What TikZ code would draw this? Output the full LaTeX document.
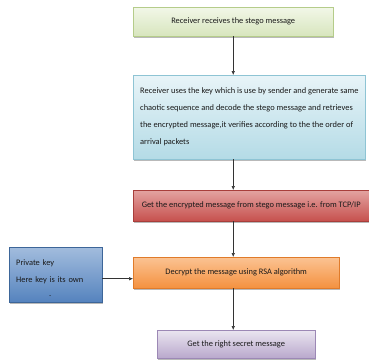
\documentclass[tikz,border=0pt]{standalone}
\usepackage{fontspec}
\setmainfont{Carlito}
\usetikzlibrary{arrows.meta,shadows}

\definecolor{greenA}{HTML}{F2F7E8}
\definecolor{greenB}{HTML}{D7E5BD}
\definecolor{greenL}{HTML}{B5CC8A}
\definecolor{blueA}{HTML}{E8F4F8}
\definecolor{blueB}{HTML}{B4DBE6}
\definecolor{blueL}{HTML}{8EC4D4}
\definecolor{redA}{HTML}{E3A3A1}
\definecolor{redB}{HTML}{C6504D}
\definecolor{redL}{HTML}{A83E3B}
\definecolor{orangeA}{HTML}{FBC393}
\definecolor{orangeB}{HTML}{F4913F}
\definecolor{orangeL}{HTML}{E07B2A}
\definecolor{keyA}{HTML}{A2BCDD}
\definecolor{keyB}{HTML}{5583BE}
\definecolor{keyL}{HTML}{3D6699}
\definecolor{violetA}{HTML}{EAE5F0}
\definecolor{violetB}{HTML}{B9A8CC}
\definecolor{violetL}{HTML}{9C88B5}

\begin{document}
\begin{tikzpicture}[x=1pt,y=-1pt,
    every node/.style={font=\fontsize{8.4}{17}\selectfont, text=black!90},
    stepbox/.style={draw, anchor=north west, inner sep=7pt,
      drop shadow={shadow xshift=0.6pt, shadow yshift=-1.6pt, opacity=0.55}},
    flow/.style={-{Latex[length=4pt,width=3.5pt]}, black!80, line width=0.5pt}]
  \useasboundingbox (0,0) rectangle (369,361);

  % receiving side
  \node[stepbox, draw=greenL, top color=greenA, bottom color=greenB,
    minimum width=200pt, minimum height=29pt] (recv) at (133,7)
    {Receiver receives the stego message};
  \node[stepbox, draw=blueL, top color=blueA, bottom color=blueB,
    minimum width=232pt, minimum height=84pt, align=left] (chaos) at (133,75)
    {Receiver uses the key which is use by sender and generate same\\
     chaotic sequence and decode the  stego message  and  retrieves\\
     the encrypted message,it  verifies according to  the the order of\\
     arrival packets};
  \node[stepbox, draw=redL, top color=redA, bottom color=redB,
    minimum width=236pt, minimum height=31pt] (tcp) at (133,190)
    {Get the encrypted message from stego  message  i.e. from TCP/IP};
  \node[stepbox, draw=orangeL, top color=orangeA, bottom color=orangeB,
    minimum width=206pt, minimum height=31pt] (rsa) at (133,257)
    {Decrypt the message using RSA algorithm};
  \node[stepbox, draw=keyL, top color=keyA, bottom color=keyB,
    minimum width=93pt, minimum height=55pt, inner ysep=3pt, align=left,
    text width=79pt] (pkey) at (9,247)
    {\rule{0pt}{12pt}Private key\\Here key is its own\\[-3pt]\hspace*{33pt}.};
  \node[stepbox, draw=violetL, top color=violetA, bottom color=violetB,
    minimum width=158pt, minimum height=28pt] (secret) at (157,330)
    {Get the right secret message};

  % arrows
  \draw[flow] (recv.south) -- (recv.south |- chaos.north);
  \draw[flow] (recv.south |- chaos.south) -- (recv.south |- tcp.north);
  \draw[flow] (recv.south |- tcp.south) -- (recv.south |- rsa.north);
  \draw[flow] (recv.south |- rsa.south) -- (recv.south |- secret.north);
  \draw[flow] ([yshift=-4pt]pkey.east) -- ([yshift=-4pt]pkey.east -| rsa.west);
\end{tikzpicture}
\end{document}
